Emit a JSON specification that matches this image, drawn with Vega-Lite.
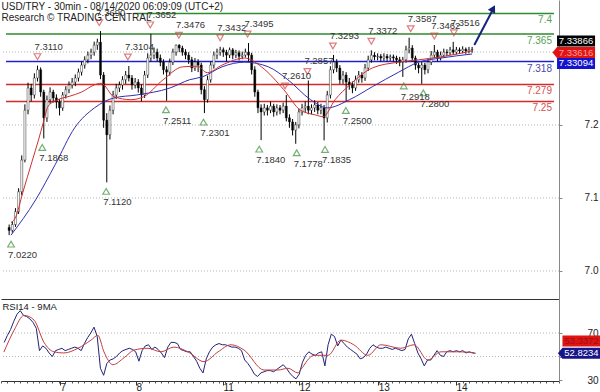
{
"$schema":"https://vega.github.io/schema/vega-lite/v6.json",
"background":"white",
"padding":{"left":0,"top":0,"right":0,"bottom":0},
"spacing":0,
"config":{"view":{"stroke":null},"text":{"font":"Liberation Sans"},"axis":{"labelFont":"Liberation Sans"}},
"datasets":{
"bars":[
{"k":1,"o":7.035,"h":7.040,"l":7.022,"c":7.030,"r":62},
{"k":2,"o":7.030,"h":7.046,"l":7.026,"c":7.040,"r":68},
{"k":3,"o":7.040,"h":7.068,"l":7.036,"c":7.062,"r":73},
{"k":4,"o":7.062,"h":7.102,"l":7.058,"c":7.096,"r":80},
{"k":5,"o":7.096,"h":7.158,"l":7.090,"c":7.150,"r":86},
{"k":6,"o":7.150,"h":7.245,"l":7.146,"c":7.235,"r":89},
{"k":7,"o":7.235,"h":7.282,"l":7.228,"c":7.273,"r":85},
{"k":8,"o":7.273,"h":7.280,"l":7.250,"c":7.261,"r":84},
{"k":9,"o":7.261,"h":7.298,"l":7.255,"c":7.290,"r":82},
{"k":10,"o":7.290,"h":7.311,"l":7.284,"c":7.304,"r":79},
{"k":11,"o":7.304,"h":7.308,"l":7.258,"c":7.266,"r":74},
{"k":12,"o":7.266,"h":7.270,"l":7.1868,"c":7.222,"r":55},
{"k":13,"o":7.222,"h":7.260,"l":7.215,"c":7.253,"r":59},
{"k":14,"o":7.253,"h":7.274,"l":7.246,"c":7.266,"r":57},
{"k":15,"o":7.266,"h":7.270,"l":7.248,"c":7.256,"r":53},
{"k":16,"o":7.256,"h":7.262,"l":7.238,"c":7.249,"r":50},
{"k":17,"o":7.249,"h":7.254,"l":7.226,"c":7.239,"r":55},
{"k":18,"o":7.239,"h":7.266,"l":7.234,"c":7.261,"r":56},
{"k":19,"o":7.261,"h":7.276,"l":7.255,"c":7.270,"r":57},
{"k":20,"o":7.270,"h":7.284,"l":7.264,"c":7.278,"r":55},
{"k":21,"o":7.278,"h":7.290,"l":7.272,"c":7.283,"r":56},
{"k":22,"o":7.283,"h":7.296,"l":7.276,"c":7.290,"r":57},
{"k":23,"o":7.290,"h":7.306,"l":7.284,"c":7.300,"r":58},
{"k":24,"o":7.300,"h":7.318,"l":7.294,"c":7.312,"r":57},
{"k":25,"o":7.312,"h":7.327,"l":7.306,"c":7.321,"r":55},
{"k":26,"o":7.321,"h":7.335,"l":7.315,"c":7.329,"r":61},
{"k":27,"o":7.329,"h":7.340,"l":7.322,"c":7.334,"r":66},
{"k":28,"o":7.334,"h":7.352,"l":7.328,"c":7.346,"r":70},
{"k":29,"o":7.346,"h":7.357,"l":7.338,"c":7.351,"r":75},
{"k":30,"o":7.351,"h":7.370,"l":7.288,"c":7.295,"r":67},
{"k":31,"o":7.295,"h":7.300,"l":7.205,"c":7.218,"r":40},
{"k":32,"o":7.218,"h":7.230,"l":7.112,"c":7.193,"r":34},
{"k":33,"o":7.193,"h":7.243,"l":7.185,"c":7.235,"r":44},
{"k":34,"o":7.235,"h":7.268,"l":7.228,"c":7.261,"r":47},
{"k":35,"o":7.261,"h":7.280,"l":7.254,"c":7.273,"r":48},
{"k":36,"o":7.273,"h":7.284,"l":7.266,"c":7.278,"r":50},
{"k":37,"o":7.278,"h":7.293,"l":7.270,"c":7.287,"r":53},
{"k":38,"o":7.287,"h":7.302,"l":7.280,"c":7.295,"r":55},
{"k":39,"o":7.295,"h":7.3104,"l":7.284,"c":7.290,"r":56},
{"k":40,"o":7.290,"h":7.295,"l":7.270,"c":7.278,"r":57},
{"k":41,"o":7.278,"h":7.290,"l":7.272,"c":7.283,"r":56},
{"k":42,"o":7.283,"h":7.288,"l":7.265,"c":7.273,"r":54},
{"k":43,"o":7.273,"h":7.279,"l":7.250,"c":7.261,"r":46},
{"k":44,"o":7.261,"h":7.302,"l":7.256,"c":7.295,"r":55},
{"k":45,"o":7.295,"h":7.332,"l":7.290,"c":7.324,"r":59},
{"k":46,"o":7.324,"h":7.3652,"l":7.318,"c":7.329,"r":60},
{"k":47,"o":7.329,"h":7.342,"l":7.322,"c":7.334,"r":56},
{"k":48,"o":7.334,"h":7.340,"l":7.318,"c":7.324,"r":58},
{"k":49,"o":7.324,"h":7.330,"l":7.310,"c":7.317,"r":56},
{"k":50,"o":7.317,"h":7.322,"l":7.296,"c":7.304,"r":53},
{"k":51,"o":7.304,"h":7.310,"l":7.2511,"c":7.300,"r":49},
{"k":52,"o":7.300,"h":7.323,"l":7.294,"c":7.317,"r":58},
{"k":53,"o":7.317,"h":7.340,"l":7.312,"c":7.334,"r":62},
{"k":54,"o":7.334,"h":7.347,"l":7.328,"c":7.346,"r":62},
{"k":55,"o":7.346,"h":7.3476,"l":7.334,"c":7.341,"r":61},
{"k":56,"o":7.341,"h":7.345,"l":7.328,"c":7.334,"r":56},
{"k":57,"o":7.334,"h":7.339,"l":7.322,"c":7.329,"r":55},
{"k":58,"o":7.329,"h":7.334,"l":7.314,"c":7.321,"r":54},
{"k":59,"o":7.321,"h":7.326,"l":7.300,"c":7.307,"r":54},
{"k":60,"o":7.307,"h":7.324,"l":7.302,"c":7.317,"r":50},
{"k":61,"o":7.317,"h":7.322,"l":7.300,"c":7.312,"r":46},
{"k":62,"o":7.312,"h":7.316,"l":7.262,"c":7.270,"r":40},
{"k":63,"o":7.270,"h":7.276,"l":7.2301,"c":7.253,"r":36},
{"k":64,"o":7.253,"h":7.294,"l":7.248,"c":7.287,"r":48},
{"k":65,"o":7.287,"h":7.318,"l":7.282,"c":7.312,"r":54},
{"k":66,"o":7.312,"h":7.335,"l":7.306,"c":7.329,"r":58},
{"k":67,"o":7.329,"h":7.340,"l":7.322,"c":7.334,"r":60},
{"k":68,"o":7.334,"h":7.3432,"l":7.328,"c":7.338,"r":61},
{"k":69,"o":7.338,"h":7.342,"l":7.326,"c":7.334,"r":60},
{"k":70,"o":7.334,"h":7.338,"l":7.318,"c":7.329,"r":60},
{"k":71,"o":7.329,"h":7.342,"l":7.324,"c":7.338,"r":59},
{"k":72,"o":7.338,"h":7.341,"l":7.322,"c":7.329,"r":58},
{"k":73,"o":7.329,"h":7.338,"l":7.324,"c":7.333,"r":58},
{"k":74,"o":7.333,"h":7.337,"l":7.320,"c":7.327,"r":57},
{"k":75,"o":7.327,"h":7.335,"l":7.322,"c":7.329,"r":55},
{"k":76,"o":7.329,"h":7.340,"l":7.325,"c":7.334,"r":47},
{"k":77,"o":7.334,"h":7.3495,"l":7.318,"c":7.329,"r":44},
{"k":78,"o":7.329,"h":7.333,"l":7.296,"c":7.304,"r":40},
{"k":79,"o":7.304,"h":7.310,"l":7.258,"c":7.266,"r":35},
{"k":80,"o":7.266,"h":7.270,"l":7.230,"c":7.239,"r":33},
{"k":81,"o":7.239,"h":7.245,"l":7.184,"c":7.232,"r":36},
{"k":82,"o":7.232,"h":7.246,"l":7.226,"c":7.239,"r":37},
{"k":83,"o":7.239,"h":7.244,"l":7.226,"c":7.235,"r":38},
{"k":84,"o":7.235,"h":7.250,"l":7.230,"c":7.242,"r":38},
{"k":85,"o":7.242,"h":7.246,"l":7.224,"c":7.232,"r":37},
{"k":86,"o":7.232,"h":7.245,"l":7.226,"c":7.239,"r":39},
{"k":87,"o":7.239,"h":7.244,"l":7.228,"c":7.235,"r":41},
{"k":88,"o":7.235,"h":7.248,"l":7.230,"c":7.242,"r":43},
{"k":89,"o":7.242,"h":7.261,"l":7.216,"c":7.222,"r":40},
{"k":90,"o":7.222,"h":7.228,"l":7.205,"c":7.215,"r":36},
{"k":91,"o":7.215,"h":7.220,"l":7.192,"c":7.201,"r":33},
{"k":92,"o":7.201,"h":7.215,"l":7.1778,"c":7.210,"r":31},
{"k":93,"o":7.210,"h":7.238,"l":7.204,"c":7.232,"r":35},
{"k":94,"o":7.232,"h":7.246,"l":7.226,"c":7.239,"r":45},
{"k":95,"o":7.239,"h":7.250,"l":7.232,"c":7.242,"r":51},
{"k":96,"o":7.242,"h":7.2857,"l":7.228,"c":7.235,"r":54},
{"k":97,"o":7.235,"h":7.245,"l":7.228,"c":7.239,"r":52},
{"k":98,"o":7.239,"h":7.252,"l":7.232,"c":7.244,"r":51},
{"k":99,"o":7.244,"h":7.249,"l":7.228,"c":7.235,"r":53},
{"k":100,"o":7.235,"h":7.246,"l":7.228,"c":7.239,"r":54},
{"k":101,"o":7.239,"h":7.244,"l":7.1835,"c":7.222,"r":42},
{"k":102,"o":7.222,"h":7.268,"l":7.214,"c":7.261,"r":60},
{"k":103,"o":7.261,"h":7.310,"l":7.255,"c":7.304,"r":69},
{"k":104,"o":7.304,"h":7.3293,"l":7.298,"c":7.317,"r":67},
{"k":105,"o":7.317,"h":7.322,"l":7.300,"c":7.307,"r":59},
{"k":106,"o":7.307,"h":7.312,"l":7.280,"c":7.287,"r":64},
{"k":107,"o":7.287,"h":7.302,"l":7.280,"c":7.295,"r":61},
{"k":108,"o":7.295,"h":7.300,"l":7.250,"c":7.283,"r":58},
{"k":109,"o":7.283,"h":7.290,"l":7.270,"c":7.278,"r":56},
{"k":110,"o":7.278,"h":7.284,"l":7.264,"c":7.273,"r":54},
{"k":111,"o":7.273,"h":7.294,"l":7.268,"c":7.287,"r":52},
{"k":112,"o":7.287,"h":7.302,"l":7.282,"c":7.295,"r":48},
{"k":113,"o":7.295,"h":7.300,"l":7.282,"c":7.290,"r":49},
{"k":114,"o":7.290,"h":7.314,"l":7.285,"c":7.307,"r":52},
{"k":115,"o":7.307,"h":7.328,"l":7.302,"c":7.321,"r":57},
{"k":116,"o":7.321,"h":7.3372,"l":7.316,"c":7.329,"r":60},
{"k":117,"o":7.329,"h":7.334,"l":7.320,"c":7.326,"r":58},
{"k":118,"o":7.326,"h":7.332,"l":7.320,"c":7.327,"r":57},
{"k":119,"o":7.327,"h":7.331,"l":7.318,"c":7.324,"r":57},
{"k":120,"o":7.324,"h":7.332,"l":7.319,"c":7.327,"r":58},
{"k":121,"o":7.327,"h":7.331,"l":7.318,"c":7.324,"r":57},
{"k":122,"o":7.324,"h":7.330,"l":7.319,"c":7.326,"r":56},
{"k":123,"o":7.326,"h":7.330,"l":7.318,"c":7.324,"r":57},
{"k":124,"o":7.324,"h":7.328,"l":7.314,"c":7.321,"r":56},
{"k":125,"o":7.321,"h":7.326,"l":7.310,"c":7.317,"r":55},
{"k":126,"o":7.317,"h":7.326,"l":7.2918,"c":7.321,"r":56},
{"k":127,"o":7.321,"h":7.345,"l":7.316,"c":7.338,"r":65},
{"k":128,"o":7.338,"h":7.3587,"l":7.332,"c":7.341,"r":69},
{"k":129,"o":7.341,"h":7.346,"l":7.318,"c":7.324,"r":61},
{"k":130,"o":7.324,"h":7.328,"l":7.304,"c":7.312,"r":53},
{"k":131,"o":7.312,"h":7.316,"l":7.298,"c":7.307,"r":48},
{"k":132,"o":7.307,"h":7.318,"l":7.280,"c":7.312,"r":42},
{"k":133,"o":7.312,"h":7.316,"l":7.296,"c":7.304,"r":47},
{"k":134,"o":7.304,"h":7.323,"l":7.298,"c":7.317,"r":47},
{"k":135,"o":7.317,"h":7.336,"l":7.312,"c":7.329,"r":51},
{"k":136,"o":7.329,"h":7.3462,"l":7.324,"c":7.334,"r":55},
{"k":137,"o":7.334,"h":7.338,"l":7.318,"c":7.324,"r":51},
{"k":138,"o":7.324,"h":7.335,"l":7.320,"c":7.329,"r":50},
{"k":139,"o":7.329,"h":7.340,"l":7.325,"c":7.334,"r":54},
{"k":140,"o":7.334,"h":7.339,"l":7.327,"c":7.333,"r":55},
{"k":141,"o":7.333,"h":7.343,"l":7.329,"c":7.338,"r":54},
{"k":142,"o":7.338,"h":7.3516,"l":7.330,"c":7.334,"r":55},
{"k":143,"o":7.334,"h":7.343,"l":7.330,"c":7.338,"r":54},
{"k":144,"o":7.338,"h":7.342,"l":7.331,"c":7.336,"r":55},
{"k":145,"o":7.336,"h":7.344,"l":7.332,"c":7.339,"r":53},
{"k":146,"o":7.339,"h":7.342,"l":7.331,"c":7.336,"r":54},
{"k":147,"o":7.336,"h":7.343,"l":7.332,"c":7.338,"r":53},
{"k":148,"o":7.338,"h":7.343,"l":7.333,"c":7.3387,"r":52.8}
],
"ma1":[
{"k":1.6,"v":7.043},{"k":3.1,"v":7.053},{"k":5.3,"v":7.094},{"k":8.4,"v":7.150},{"k":10.3,"v":7.184},{"k":11.8,"v":7.213},{"k":13.4,"v":7.242},{"k":16.5,"v":7.253},{"k":20.3,"v":7.259},{"k":24,"v":7.266},{"k":28,"v":7.278},{"k":30.2,"v":7.281},{"k":34.3,"v":7.258},{"k":39.6,"v":7.253},{"k":43.7,"v":7.258},{"k":49.9,"v":7.287},{"k":56.1,"v":7.309},{"k":60.8,"v":7.310},{"k":63.9,"v":7.299},{"k":68.6,"v":7.312},{"k":75.8,"v":7.324},{"k":81.1,"v":7.309},{"k":88.2,"v":7.270},{"k":93.5,"v":7.235},{"k":98.2,"v":7.227},{"k":100.7,"v":7.224},{"k":104.5,"v":7.253},{"k":109.1,"v":7.278},{"k":116.3,"v":7.307},{"k":124.7,"v":7.317},{"k":131,"v":7.321},{"k":138.1,"v":7.326},{"k":148,"v":7.3362}
],
"ma2":[
{"k":1.6,"v":7.022},{"k":9.4,"v":7.082},{"k":15.6,"v":7.142},{"k":21.8,"v":7.205},{"k":28.1,"v":7.239},{"k":34.3,"v":7.256},{"k":41.5,"v":7.261},{"k":52.1,"v":7.273},{"k":58.3,"v":7.287},{"k":62.4,"v":7.292},{"k":68.6,"v":7.309},{"k":75.8,"v":7.317},{"k":83.3,"v":7.309},{"k":89.5,"v":7.287},{"k":96.7,"v":7.253},{"k":102,"v":7.239},{"k":109.1,"v":7.253},{"k":116.3,"v":7.275},{"k":124.7,"v":7.300},{"k":131,"v":7.317},{"k":138.1,"v":7.324},{"k":148,"v":7.3309}
],
"rsima":[
{"k":0.9,"v":53.8},{"k":4.1,"v":72.5},{"k":7.2,"v":85},{"k":10.3,"v":81},{"k":13.4,"v":62},{"k":16.5,"v":54},{"k":19.6,"v":53},{"k":24,"v":57},{"k":28.1,"v":64},{"k":30.2,"v":68},{"k":32.1,"v":54},{"k":34.9,"v":43},{"k":38.4,"v":49},{"k":41.5,"v":55.5},{"k":45.8,"v":57},{"k":49.9,"v":54},{"k":53.9,"v":58},{"k":58.3,"v":54},{"k":63.3,"v":45.6},{"k":67.7,"v":54},{"k":71.7,"v":60},{"k":75.8,"v":55.5},{"k":82,"v":38.5},{"k":86.4,"v":38.5},{"k":89.5,"v":40},{"k":92.6,"v":36},{"k":93.5,"v":39},{"k":97.6,"v":51},{"k":102,"v":51},{"k":106,"v":64},{"k":110,"v":60},{"k":114.4,"v":51},{"k":118.5,"v":60},{"k":124.7,"v":57},{"k":128.8,"v":60},{"k":133.1,"v":47},{"k":137.2,"v":54},{"k":142.5,"v":54},{"k":147.5,"v":53.3}
],
"highs":[
{"k":10,"v":7.311,"t":"7.3110"},{"k":29.6,"v":7.369,"t":"7.3690"},{"k":38.7,"v":7.3104,"t":"7.3104"},{"k":45.8,"v":7.3652,"t":"7.3652"},{"k":54.9,"v":7.3476,"t":"7.3476"},{"k":68,"v":7.3432,"t":"7.3432"},{"k":76.7,"v":7.3495,"t":"7.3495"},{"k":88.6,"v":7.261,"t":"7.2610"},{"k":95.7,"v":7.2857,"t":"7.2857"},{"k":103.8,"v":7.3293,"t":"7.3293"},{"k":116,"v":7.3372,"t":"7.3372"},{"k":128.5,"v":7.3587,"t":"7.3587"},{"k":136,"v":7.3462,"t":"7.3462"},{"k":142.2,"v":7.3516,"t":"7.3516"}
],
"lows":[
{"k":1.6,"v":7.022,"t":"7.0220"},{"k":11.5,"v":7.1868,"t":"7.1868"},{"k":31.8,"v":7.112,"t":"7.1120"},{"k":50.8,"v":7.2511,"t":"7.2511"},{"k":62.7,"v":7.2301,"t":"7.2301"},{"k":80.4,"v":7.184,"t":"7.1840"},{"k":92.3,"v":7.1778,"t":"7.1778"},{"k":101.3,"v":7.1835,"t":"7.1835"},{"k":107.9,"v":7.25,"t":"7.2500"},{"k":126.3,"v":7.2918,"t":"7.2918"},{"k":132.5,"v":7.28,"t":"7.2800"}
],
"levels":[
{"k":40.5,"k2":174,"v":7.4,"lab":"7.4","kind":"R"},
{"k":0,"k2":174,"v":7.365,"lab":"7.365","kind":"R"},
{"k":0,"k2":174,"v":7.318,"lab":"7.318","kind":"P"},
{"k":0,"k2":174,"v":7.279,"lab":"7.279","kind":"S"},
{"k":0,"k2":174,"v":7.25,"lab":"7.25","kind":"S"}
]
},
"vconcat":[
{
"width":558,"height":299,
"title":{"text":"USD/TRY - 30min - 08/14/2020 06:09:09 (UTC+2)","subtitle":"Research © TRADING CENTRAL","anchor":"start","offset":-23,"font":"Liberation Sans","fontSize":10,"fontWeight":"normal","color":"#222222","subtitleFont":"Liberation Sans","subtitleFontSize":10,"subtitleColor":"#222222","subtitlePadding":1,"dx":1},
"resolve":{"scale":{"y":"independent"}},
"layer":[
{"data":{"values":[{"g":7.0},{"g":7.1},{"g":7.2},{"g":7.3}]},
"mark":{"type":"rule","stroke":"#b4b4b4","strokeDash":[1,2],"strokeWidth":1},
"encoding":{"y":{"field":"g","type":"quantitative","scale":{"domain":[6.9616,7.3712],"nice":false,"zero":false},
"axis":{"orient":"right","values":[7.0,7.1,7.2,7.3],"labelExpr":"datum.value>7.25?'':format(datum.value,'.1f')","grid":false,"tickSize":3,"tickColor":"#888888","domainColor":"#888888","labelAlign":"right","labelBaseline":"middle","labelPadding":36,"labelFontSize":10,"labelColor":"#222222","title":null}}}},
{
"encoding":{"x":{"field":"k","type":"quantitative","scale":{"domain":[0,174],"nice":false,"zero":false},"axis":{"orient":"bottom","labels":false,"ticks":false,"grid":false,"title":null,"domainColor":"#333333"}}},
"layer":[
{"data":{"name":"levels"},"mark":{"type":"rule","strokeWidth":1.5},
"encoding":{"x2":{"field":"k2"},"y":{"field":"v","type":"quantitative","scale":{"domain":[6.913,7.423],"nice":false,"zero":false},"axis":null},
"stroke":{"field":"kind","type":"nominal","scale":{"domain":["R","P","S"],"range":["#2e8b2e","#2222cc","#d42a2a"]},"legend":null}}},
{"data":{"name":"bars"},"mark":{"type":"rule","color":"#000000","strokeWidth":1},
"encoding":{"y":{"field":"l","type":"quantitative","axis":null},"y2":{"field":"h"}}},
{"data":{"name":"bars"},"mark":{"type":"bar","size":2,"stroke":"#000000","strokeWidth":0.4},
"encoding":{"y":{"field":"o","type":"quantitative","axis":null},"y2":{"field":"c"},
"fill":{"condition":{"test":"datum.c>datum.o","value":"#ffffff"},"value":"#000000"}}},
{"data":{"name":"ma2"},"mark":{"type":"line","color":"#3030b0","strokeWidth":1,"interpolate":"monotone"},
"encoding":{"y":{"field":"v","type":"quantitative","axis":null}}},
{"data":{"name":"ma1"},"mark":{"type":"line","color":"#d03030","strokeWidth":1,"interpolate":"monotone"},
"encoding":{"y":{"field":"v","type":"quantitative","axis":null}}},
{"data":{"name":"highs"},"mark":{"type":"point","shape":"triangle-down","filled":false,"stroke":"#d04848","strokeWidth":1.2,"size":45,"yOffset":-9},
"encoding":{"y":{"field":"v","type":"quantitative","axis":null}}},
{"data":{"name":"highs"},"mark":{"type":"text","align":"left","baseline":"middle","dx":-3,"dy":-19,"fontSize":9.5,"color":"#333333"},
"encoding":{"y":{"field":"v","type":"quantitative","axis":null},"text":{"field":"t"}}},
{"data":{"name":"lows"},"mark":{"type":"point","shape":"triangle-up","filled":false,"stroke":"#3d8f3d","strokeWidth":1.2,"size":45,"yOffset":9},
"encoding":{"y":{"field":"v","type":"quantitative","axis":null}}},
{"data":{"name":"lows"},"mark":{"type":"text","align":"left","baseline":"middle","dx":-3,"dy":20,"fontSize":9.5,"color":"#333333"},
"encoding":{"y":{"field":"v","type":"quantitative","axis":null},"text":{"field":"t"}}},
{"data":{"name":"levels"},"mark":{"type":"text","align":"right","baseline":"middle","dx":-2,"dy":7,"fontSize":10},
"encoding":{"x":{"field":"k2","type":"quantitative"},"y":{"field":"v","type":"quantitative","axis":null},"text":{"field":"lab"},
"fill":{"field":"kind","type":"nominal","scale":{"domain":["R","P","S"],"range":["#5a9e5a","#4a4aa8","#d45050"]},"legend":null}}},
{"data":{"values":[{"k":148.7,"v":7.3463},{"k":154.4,"v":7.4047}]},"mark":{"type":"line","color":"#16237a","strokeWidth":2},
"encoding":{"y":{"field":"v","type":"quantitative","axis":null}}},
{"data":{"values":[{"k":154.7,"v":7.4085}]},"mark":{"type":"point","shape":"triangle-up","filled":true,"color":"#16237a","size":70,"angle":29,"opacity":1},
"encoding":{"y":{"field":"v","type":"quantitative","axis":null}}},
{"data":{"values":[{"k":181,"v":7.33866,"t":"7.33866"}]},"mark":{"type":"point","shape":"M-1,-0.29L1,-0.29L1,0.29L-1,0.29Z","size":1444,"filled":true,"color":"#000000","opacity":1,"yOffset":-8.4},
"encoding":{"y":{"field":"v","type":"quantitative","axis":null}}},
{"data":{"values":[{"k":181,"v":7.33866,"t":"7.33866"}]},"mark":{"type":"text","fontSize":9.5,"color":"#ffffff","yOffset":-8.4,"baseline":"middle"},
"encoding":{"y":{"field":"v","type":"quantitative","axis":null},"text":{"field":"t"}}},
{"data":{"values":[{"k":181,"v":7.33094,"t":"7.33094"}]},"mark":{"type":"point","shape":"M-1,-0.29L1,-0.29L1,0.29L-1,0.29Z","size":1444,"filled":true,"color":"#1414d0","opacity":1,"yOffset":9.5},
"encoding":{"y":{"field":"v","type":"quantitative","axis":null}}},
{"data":{"values":[{"k":181,"v":7.33094,"t":"7.33094"}]},"mark":{"type":"text","fontSize":9.5,"color":"#ffffff","yOffset":9.5,"baseline":"middle"},
"encoding":{"y":{"field":"v","type":"quantitative","axis":null},"text":{"field":"t"}}},
{"data":{"values":[{"k":181,"v":7.33616,"t":"7.33616"}]},"mark":{"type":"point","shape":"M-1.24,0L-1,-0.29L1,-0.29L1,0.29L-1,0.29Z","size":1444,"filled":true,"color":"#e01414","opacity":1,"yOffset":1.6},
"encoding":{"y":{"field":"v","type":"quantitative","axis":null}}},
{"data":{"values":[{"k":181,"v":7.33616,"t":"7.33616"}]},"mark":{"type":"text","fontSize":9.5,"color":"#ff9a9a","yOffset":1.6,"baseline":"middle"},
"encoding":{"y":{"field":"v","type":"quantitative","axis":null},"text":{"field":"t"}}}
]
}
]
},
{
"width":558,"height":82,
"title":{"text":"RSI14 - 9MA","anchor":"start","offset":-12,"font":"Liberation Sans","fontSize":9.5,"fontWeight":"normal","color":"#222222","dx":2},
"resolve":{"scale":{"y":"independent","x":"independent"}},
"layer":[
{"data":{"values":[{"g":50},{"g":70}]},
"mark":{"type":"rule","stroke":"#b4b4b4","strokeDash":[1,2],"strokeWidth":1},
"encoding":{"y":{"field":"g","type":"quantitative","scale":{"domain":[29.15,98.94],"nice":false,"zero":false},
"axis":{"orient":"right","values":[30,50,70],"labelExpr":"datum.value==50?'':datum.label","grid":false,"tickSize":3,"tickColor":"#888888","domainColor":"#888888","labelAlign":"right","labelBaseline":"middle","labelPadding":36,"labelFontSize":10,"labelColor":"#222222","title":null}}}},
{"data":{"values":[{"m":87}]},"mark":{"type":"point","opacity":0,"size":1},
"encoding":{"x":{"field":"m","type":"quantitative","scale":{"domain":[0,174],"nice":false,"zero":false},
"axis":{"orient":"bottom","tickCount":87,"labels":false,"domain":false,"tickSize":2,"tickColor":"#555555","grid":false,"title":null}}}},
{
"encoding":{"x":{"field":"k","type":"quantitative","scale":{"domain":[0,174],"nice":false,"zero":false},
"axis":{"orient":"bottom","values":[18.4,42.1,69.2,92.9,117.6,141.9],"labelExpr":"datum.value<30?'7':datum.value<50?'8':datum.value<80?'11':datum.value<100?'12':datum.value<130?'13':'14'","tickSize":4,"tickColor":"#333333","domainColor":"#333333","labelAlign":"left","labelBaseline":"top","labelDx":2,"labelPadding":-3,"labelFontSize":10,"labelColor":"#222222","grid":false,"title":null,"labelFlush":false,"labelOverlap":false}}},
"layer":[
{"data":{"name":"bars"},"mark":{"type":"line","color":"#22227a","strokeWidth":1},
"encoding":{"y":{"field":"r","type":"quantitative","scale":{"domain":[29.15,98.94],"nice":false,"zero":false},"axis":null}}},
{"data":{"name":"rsima"},"mark":{"type":"line","color":"#c04040","strokeWidth":1,"interpolate":"monotone"},
"encoding":{"y":{"field":"v","type":"quantitative","axis":null}}},
{"data":{"values":[{"k":181,"v":53.3372,"t":"53.3372"}]},"mark":{"type":"point","shape":"M-1,-0.29L1,-0.29L1,0.29L-1,0.29Z","size":1444,"filled":true,"color":"#e01414","opacity":1,"yOffset":-11.5},
"encoding":{"y":{"field":"v","type":"quantitative","axis":null}}},
{"data":{"values":[{"k":181,"v":53.3372,"t":"53.3372"}]},"mark":{"type":"text","fontSize":9.5,"color":"#9a1010","yOffset":-11.5,"baseline":"middle"},
"encoding":{"y":{"field":"v","type":"quantitative","axis":null},"text":{"field":"t"}}},
{"data":{"values":[{"k":181,"v":52.8234,"t":"52.8234"}]},"mark":{"type":"point","shape":"M-1.24,0L-1,-0.29L1,-0.29L1,0.29L-1,0.29Z","size":1444,"filled":true,"color":"#16168a","opacity":1,"yOffset":0},
"encoding":{"y":{"field":"v","type":"quantitative","axis":null}}},
{"data":{"values":[{"k":181,"v":52.8234,"t":"52.8234"}]},"mark":{"type":"text","fontSize":9.5,"color":"#ffffff","yOffset":0,"baseline":"middle"},
"encoding":{"y":{"field":"v","type":"quantitative","axis":null},"text":{"field":"t"}}}
]
}
]
}
]
}
